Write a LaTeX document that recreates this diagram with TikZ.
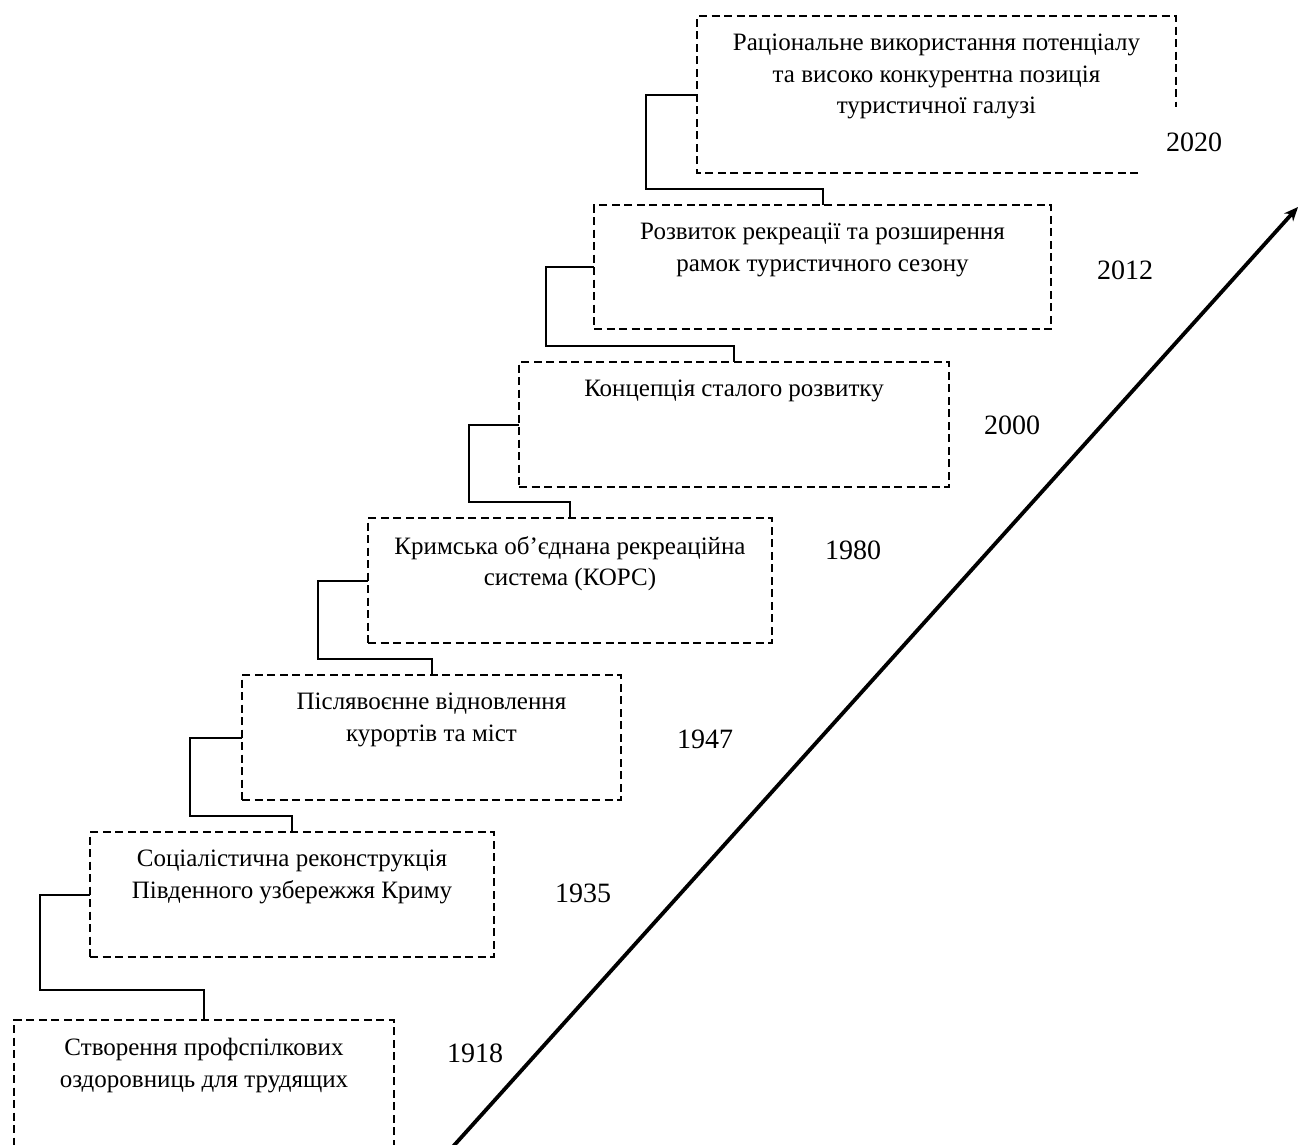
\documentclass[tikz,border=0pt]{standalone}
\usepackage{fontspec}
\setmainfont{Liberation Serif}
\usetikzlibrary{arrows.meta}
\tikzset{stage/.style={draw,dash pattern=on 8pt off 4.5pt,line width=1.4pt,inner sep=0pt,outer sep=0pt,anchor=north west},stagetext/.style={anchor=north,inner sep=0pt,yshift=-18pt,align=center,font=\fontsize{25}{31.5}\selectfont},yearlabel/.style={anchor=center,inner sep=1pt,font=\fontsize{28}{30}\selectfont},link/.style={line width=2pt},timeline/.style={line width=3.8pt,-{Stealth[length=14pt,width=12pt]}}}

\begin{document}
\begin{tikzpicture}[x=1pt,y=-1pt]
\path[use as bounding box] (0,0) rectangle (1298,1144);
% stages of the timeline
\node[stage,draw=none,minimum width=479pt,minimum height=157pt,label={[stagetext]north:{Раціональне використання потенціалу\\та високо конкурентна позиція\\туристичної галузі}}] (b2020) at (697,16) {};
\draw[dash pattern=on 8pt off 4.5pt,line width=1.4pt] ([xshift=-38pt]b2020.south east) -- (b2020.south west) -- (b2020.north west) -- (b2020.north east) -- ([yshift=66pt]b2020.south east);
\node[stage,minimum width=457pt,minimum height=124pt,label={[stagetext]north:{Розвиток рекреації та розширення\\рамок туристичного сезону}}] (b2012) at (594,205) {};
\node[stage,minimum width=430pt,minimum height=125pt,label={[stagetext]north:{Концепція сталого розвитку}}] (b2000) at (519,362) {};
\node[stage,minimum width=404pt,minimum height=125pt,label={[stagetext]north:{Кримська об’єднана рекреаційна\\система (КОРС)}}] (b1980) at (368,518) {};
\node[stage,minimum width=379pt,minimum height=125pt,label={[stagetext]north:{Післявоєнне відновлення\\курортів та міст}}] (b1947) at (242,675) {};
\node[stage,minimum width=404pt,minimum height=125pt,label={[stagetext]north:{Соціалістична реконструкція\\Південного узбережжя Криму}}] (b1935) at (90,832) {};
\node[stage,minimum width=380pt,minimum height=160pt,label={[stagetext]north:{Створення профспілкових\\оздоровниць для трудящих}}] (b1918) at (14,1020) {};
% years
\node[yearlabel] (y2020) at (1194,142) {2020};
\node[yearlabel] (y2012) at (1125,270) {2012};
\node[yearlabel] (y2000) at (1012,425) {2000};
\node[yearlabel] (y1980) at (853,550) {1980};
\node[yearlabel] (y1947) at (705,739) {1947};
\node[yearlabel] (y1935) at (583,893) {1935};
\node[yearlabel] (y1918) at (475,1053) {1918};
% steps between stages
\draw[link] (b2020.west) -- ++(-51,0) |- ([yshift=16pt]b2012.north) -- (b2012.north);
\draw[link] (b2012.west) -- ++(-48,0) |- ([yshift=16pt]b2000.north) -- (b2000.north);
\draw[link] (b2000.west) -- ++(-50,0) |- ([yshift=16pt]b1980.north) -- (b1980.north);
\draw[link] (b1980.west) -- ++(-50,0) |- ([yshift=16pt]b1947.north) -- (b1947.north);
\draw[link] (b1947.west) -- ++(-52,0) |- ([yshift=16pt]b1935.north) -- (b1935.north);
\draw[link] (b1935.west) -- ++(-50,0) |- ([yshift=30pt]b1918.north) -- (b1918.north);
% time axis
\coordinate (tstart) at (449,1151);
\coordinate (tend) at (1298,207);
\draw[timeline] (tstart) -- (tend);
\end{tikzpicture}
\end{document}
